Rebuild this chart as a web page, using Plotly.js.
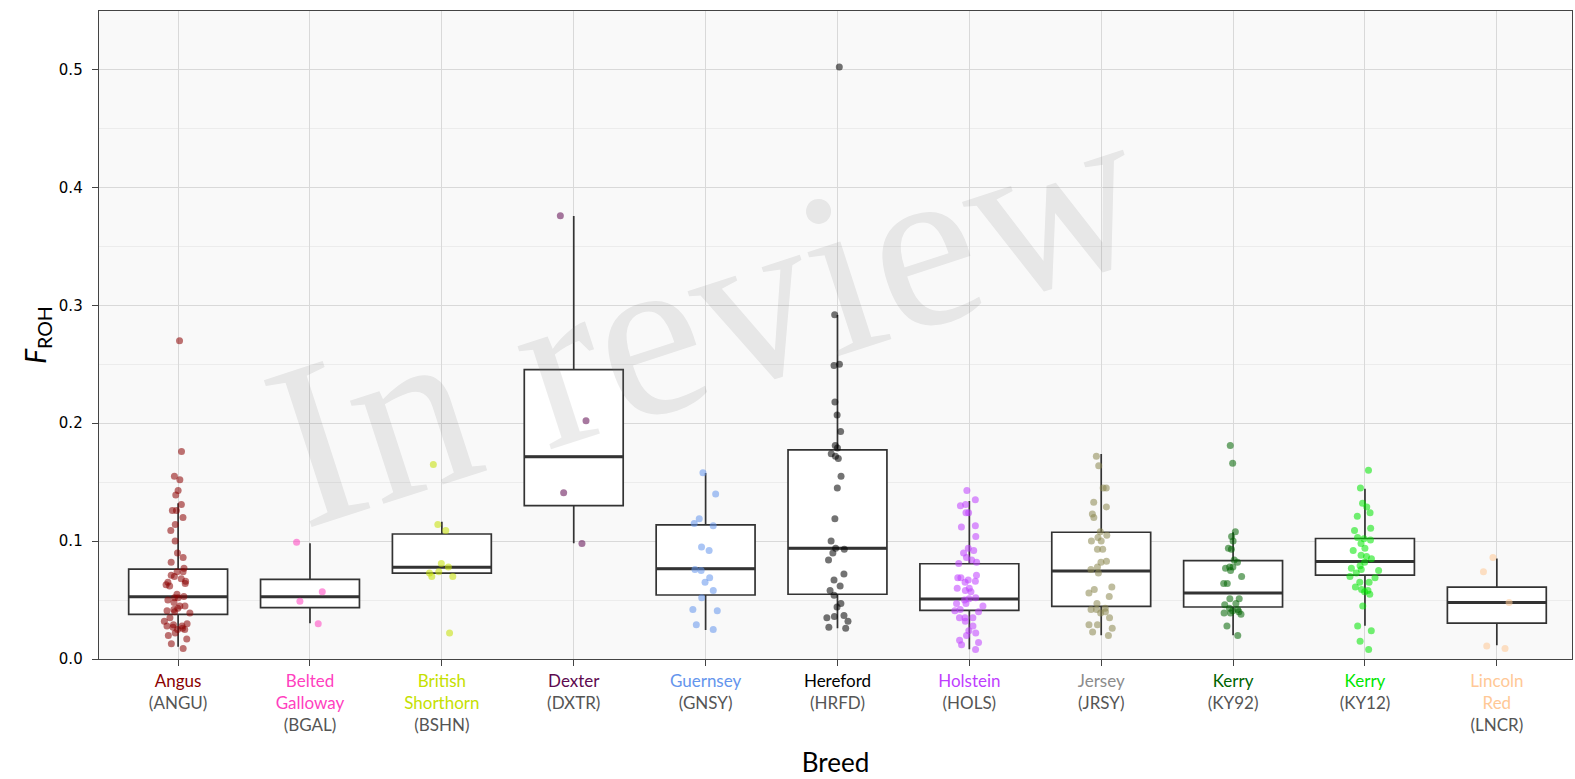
<!DOCTYPE html>
<html>
<head>
<meta charset="utf-8">
<script src="https://cdn.plot.ly/plotly-3.0.1.min.js"></script>
<style>html,body{margin:0;padding:0;background:#fff}#chart{width:1575px;height:779px}</style>
</head>
<body>
<div id="chart"></div>
<script>
// ---- data ----
var breedNames = [["Angus"], ["Belted", "Galloway"], ["British", "Shorthorn"], ["Dexter"], ["Guernsey"], ["Hereford"], ["Holstein"], ["Jersey"], ["Kerry"], ["Kerry"], ["Lincoln", "Red"]];
var breedCodes = ["ANGU", "BGAL", "BSHN", "DXTR", "GNSY", "HRFD", "HOLS", "JRSY", "KY92", "KY12", "LNCR"];
var pointColors = ["#8B0000", "#FF3FC0", "#C5E000", "#5E0A50", "#6495ED", "#000000", "#BF3EFF", "#8B864E", "#006400", "#00E600", "#FFC896"];
var labelColors = ["#8B0000", "#FF3FC0", "#C5E000", "#5E0A50", "#6495ED", "#000000", "#BF3EFF", "#8C8C8C", "#006400", "#00E600", "#FFC896"];

var q1    = [0.0379, 0.0435, 0.0729, 0.1300, 0.0543, 0.0549, 0.0413, 0.0447, 0.0441, 0.0711, 0.0304];
var med   = [0.0528, 0.0528, 0.0778, 0.1716, 0.0766, 0.0939, 0.0509, 0.0746, 0.0560, 0.0826, 0.0480];
var q3    = [0.0763, 0.0676, 0.1060, 0.2454, 0.1137, 0.1773, 0.0808, 0.1075, 0.0834, 0.1022, 0.0609];
var lowW  = [0.0104, 0.0303, 0.0729, 0.0981, 0.0246, 0.0260, 0.0082, 0.0201, 0.0201, 0.0282, 0.0116];
var highW = [0.1320, 0.0981, 0.1165, 0.3757, 0.1577, 0.2918, 0.1340, 0.1739, 0.1075, 0.1443, 0.0853];

var angu = [0.270, 0.176, 0.155, 0.152, 0.143, 0.139, 0.131, 0.126, 0.126, 0.120, 0.114, 0.109, 0.100, 0.090, 0.086, 0.082, 0.077, 0.074, 0.074, 0.071, 0.070, 0.068, 0.066, 0.065, 0.064, 0.063, 0.062, 0.055, 0.053, 0.052, 0.052, 0.050, 0.048, 0.045, 0.045, 0.043, 0.042, 0.041, 0.040, 0.039, 0.035, 0.032, 0.030, 0.029, 0.028, 0.028, 0.027, 0.026, 0.025, 0.025, 0.022, 0.020, 0.017, 0.013, 0.009];
var bgal = [0.099, 0.057, 0.049, 0.030];
var bshn = [0.165, 0.114, 0.109, 0.081, 0.078, 0.074, 0.073, 0.070, 0.070, 0.022];
var dxtr = [0.376, 0.202, 0.141, 0.098];
var gnsy = [0.158, 0.140, 0.119, 0.115, 0.113, 0.095, 0.092, 0.076, 0.075, 0.069, 0.065, 0.058, 0.052, 0.042, 0.041, 0.029, 0.025];
var hrfd = [0.502, 0.292, 0.250, 0.249, 0.218, 0.207, 0.193, 0.181, 0.179, 0.174, 0.172, 0.170, 0.155, 0.145, 0.119, 0.100, 0.094, 0.093, 0.090, 0.084, 0.072, 0.067, 0.062, 0.058, 0.054, 0.047, 0.044, 0.037, 0.036, 0.035, 0.032, 0.027, 0.026];
var hols = [0.143, 0.135, 0.131, 0.130, 0.124, 0.124, 0.113, 0.112, 0.104, 0.094, 0.092, 0.090, 0.086, 0.084, 0.081, 0.082, 0.071, 0.069, 0.069, 0.067, 0.066, 0.065, 0.060, 0.060, 0.058, 0.057, 0.052, 0.051, 0.050, 0.047, 0.047, 0.045, 0.042, 0.041, 0.040, 0.035, 0.035, 0.035, 0.032, 0.028, 0.024, 0.022, 0.020, 0.016, 0.014, 0.012, 0.008];
var jrsy = [0.172, 0.164, 0.145, 0.145, 0.133, 0.129, 0.123, 0.120, 0.108, 0.105, 0.103, 0.100, 0.100, 0.093, 0.093, 0.083, 0.082, 0.076, 0.078, 0.073, 0.061, 0.059, 0.056, 0.053, 0.047, 0.043, 0.042, 0.042, 0.040, 0.039, 0.035, 0.029, 0.029, 0.026, 0.023, 0.020];
var ky92 = [0.181, 0.166, 0.108, 0.104, 0.100, 0.094, 0.093, 0.084, 0.082, 0.078, 0.078, 0.077, 0.075, 0.070, 0.064, 0.064, 0.051, 0.051, 0.046, 0.047, 0.043, 0.042, 0.041, 0.040, 0.039, 0.039, 0.038, 0.028, 0.020];
var ky12 = [0.160, 0.145, 0.132, 0.129, 0.124, 0.121, 0.111, 0.109, 0.103, 0.101, 0.102, 0.098, 0.094, 0.092, 0.088, 0.087, 0.085, 0.082, 0.079, 0.077, 0.076, 0.073, 0.075, 0.069, 0.070, 0.065, 0.065, 0.061, 0.059, 0.057, 0.058, 0.055, 0.045, 0.028, 0.024, 0.015, 0.008];
var lncr = [0.086, 0.074, 0.048, 0.011, 0.009];

var samples = [angu, bgal, bshn, dxtr, gnsy, hrfd, hols, jrsy, ky92, ky12, lncr];

// ---- build ----
var positions = breedCodes.map(function (c, i) { return i; });
var BOXW = 0.75;
var traces = [];

traces.push({
  type: 'box', x: positions, q1: q1, median: med, q3: q3,
  lowerfence: lowW, upperfence: highW, width: BOXW, whiskerwidth: 0,
  fillcolor: '#ffffff', line: {color: '#333333', width: 1.7},
  boxpoints: false, hoverinfo: 'skip', showlegend: false
});
traces.push({
  type: 'box', x: positions, q1: med, median: med, q3: med,
  lowerfence: med, upperfence: med, width: BOXW, whiskerwidth: 0,
  fillcolor: 'rgba(0,0,0,0)', line: {color: '#333333', width: 3},
  boxpoints: false, hoverinfo: 'skip', showlegend: false
});
samples.forEach(function (s, i) {
  traces.push({
    type: 'box', y: s, x0: i, width: BOXW, whiskerwidth: 0,
    boxpoints: 'all', jitter: 0.32, pointpos: 0,
    fillcolor: 'rgba(0,0,0,0)', line: {color: 'rgba(0,0,0,0)', width: 0},
    marker: {color: pointColors[i], size: 7, opacity: 0.55, line: {width: 0}},
    hoverinfo: 'skip', showlegend: false
  });
});

var tickText = breedNames.map(function (lines, i) {
  return lines.map(function (l) {
    return '<span style="color:' + labelColors[i] + '">' + l + '</span>';
  }).join('<br>') + '<br>(' + breedCodes[i] + ')';
});

var layout = {
  width: 1575, height: 779,
  margin: {l: 99, r: 3, t: 11, b: 120},
  paper_bgcolor: '#ffffff', plot_bgcolor: '#f9f9f9',
  showlegend: false, hovermode: false, boxmode: 'overlay',
  xaxis: {
    range: [-0.6, 10.57], tickvals: positions, ticktext: tickText,
    showgrid: true, gridcolor: '#d9d9d9', gridwidth: 1, zeroline: false,
    showline: true, linecolor: '#444444', linewidth: 1.3, mirror: true,
    ticks: 'outside', ticklen: 6, tickcolor: '#444444', tickwidth: 1,
    tickfont: {family: 'Lato, sans-serif', size: 17, color: '#555555'},
    title: {text: 'Breed', font: {family: 'Lato, sans-serif', size: 26, color: '#000000'}, standoff: 20}
  },
  yaxis: {
    range: [0, 0.5496], dtick: 0.1, tick0: 0, tickformat: '.1f',
    showgrid: true, gridcolor: '#d9d9d9', gridwidth: 1, zeroline: false,
    minor: {dtick: 0.05, showgrid: true, gridcolor: '#ececec', gridwidth: 1, ticks: ''},
    showline: true, linecolor: '#444444', linewidth: 1.3, mirror: true,
    ticks: 'outside', ticklen: 6, tickcolor: '#444444', tickwidth: 1,
    ticklabelstandoff: 6,
    tickfont: {family: 'DejaVu Sans, sans-serif', size: 15, color: '#000000'},
    title: {text: '<i>F</i><sub>ROH</sub>', font: {family: 'Lato, sans-serif', size: 28, color: '#000000'}, standoff: 4}
  },
  annotations: [{
    xref: 'paper', yref: 'paper', x: 0.412, y: 0.53,
    xanchor: 'center', yanchor: 'middle', showarrow: false,
    text: 'In review', textangle: -18,
    font: {family: 'Liberation Serif, serif', size: 236, color: 'rgba(128,128,128,0.15)'}
  }]
};

Plotly.newPlot('chart', traces, layout, {staticPlot: true});
</script>
</body>
</html>
